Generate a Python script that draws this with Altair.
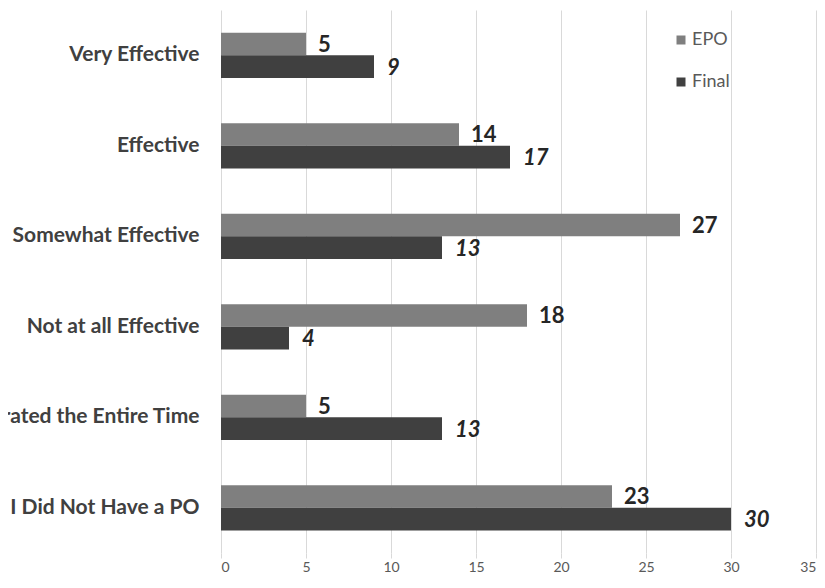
import altair as alt
import pandas as pd

categories = ["Very Effective", "Effective", "Somewhat Effective",
              "Not at all Effective", "Incarcerated the Entire Time", "I Did Not Have a PO"]
series = ["EPO", "Final"]
epo_values = [5, 14, 27, 18, 5, 23]
final_values = [9, 17, 13, 4, 13, 30]
x_ticks = [0, 5, 10, 15, 20, 25, 30, 35]
colors = ["#7f7f7f", "#404040"]

rows = []
for c, e, f in zip(categories, epo_values, final_values):
    rows.append({"category": c, "series": "EPO", "value": e})
    rows.append({"category": c, "series": "Final", "value": f})
df = pd.DataFrame(rows)

FONT = "Lato"

y_enc = alt.Y("category:N", sort=categories,
              scale=alt.Scale(paddingInner=0.5, paddingOuter=0.25),
              axis=alt.Axis(title=None, labelFont=FONT, labelFontWeight="bold",
                            labelFontSize=21, labelColor="#404040", labelPadding=22,
                            ticks=False, domain=False, labelLimit=500))
yoff_enc = alt.YOffset("series:N", sort=series,
                       scale=alt.Scale(paddingInner=0, paddingOuter=0))
x_enc = alt.X("value:Q", scale=alt.Scale(domain=[0, 35], nice=False),
              axis=alt.Axis(values=x_ticks, title=None, grid=True, gridColor="#d9d9d9",
                            domain=False, tickColor="#d9d9d9", tickSize=5,
                            labelColor="#595959", labelFontSize=14, labelFont=FONT,
                            labelPadding=2))

base = alt.Chart(df).encode(y=y_enc, yOffset=yoff_enc)

bars = base.mark_bar().encode(
    x=x_enc,
    color=alt.Color("series:N", sort=series,
                    scale=alt.Scale(domain=series, range=colors),
                    legend=alt.Legend(title=None, orient="none", legendX=451, legendY=21,
                                      direction="vertical", symbolType="square",
                                      symbolSize=81, symbolStrokeWidth=0,
                                      labelFont=FONT, labelFontSize=18,
                                      labelColor="#595959", rowPadding=24,
                                      labelOffset=2, padding=0)),
)

epo_text = base.mark_text(align="left", baseline="middle", dx=12, dy=1, fontSize=22,
                          fontWeight="bold", font=FONT, color="#262626").encode(
    x="value:Q", text="value:Q").transform_filter(alt.datum.series == "EPO")

final_text = base.mark_text(align="left", baseline="middle", dx=13, dy=1, fontSize=22,
                            fontWeight="bold", fontStyle="italic", font=FONT,
                            color="#262626").encode(
    x="value:Q", text="value:Q").transform_filter(alt.datum.series == "Final")

chart = alt.layer(bars, epo_text, final_text).properties(
    width=595, height=543,
    autosize=alt.AutoSizeParams(type="none"),
    padding={"left": 213, "right": 1, "top": 2, "bottom": 23},
    background="white",
).configure_view(stroke=None)

chart.save("out.html", embed_options={"renderer": "svg", "actions": False})
